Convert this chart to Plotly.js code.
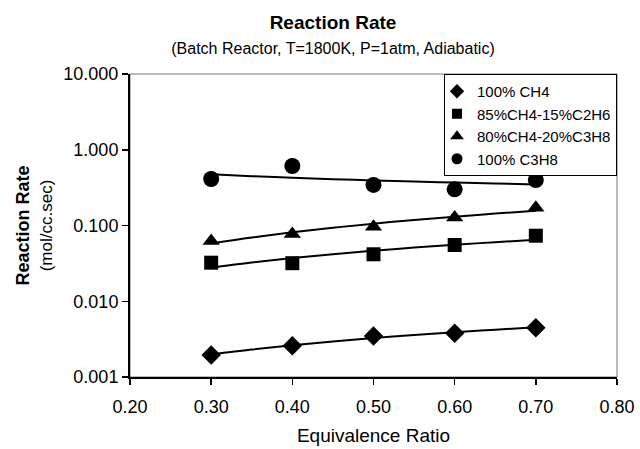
<!DOCTYPE html>
<html>
<head>
<meta charset="utf-8">
<script src="https://cdn.plot.ly/plotly-3.0.1.min.js"></script>
<style>html,body{margin:0;padding:0;background:#fff;}#chart{width:640px;height:449px;}</style>
</head>
<body>
<div id="chart"></div>
<script>
// Equivalence ratio (x) for measured points
var phi = [0.30, 0.40, 0.50, 0.60, 0.70];
// Measured reaction rates (mol/cc.sec)
var rateCH4 = [0.00195, 0.00259, 0.00348, 0.00378, 0.00448];
var rateCH4C2H6 = [0.0323, 0.0318, 0.0417, 0.0553, 0.0733];
var rateCH4C3H8 = [0.0624, 0.0772, 0.0964, 0.128, 0.172];
var rateC3H8 = [0.411, 0.610, 0.343, 0.300, 0.398];

// Trend line readings (x and values)
var phiFit = [0.30, 0.35, 0.40, 0.45, 0.50, 0.55, 0.60, 0.65, 0.70];
var fitCH4 = [0.00198, 0.00230, 0.00262, 0.00294, 0.00326, 0.00358, 0.00390, 0.00422, 0.00453];
var fitCH4C2H6 = [0.0279, 0.0325, 0.0372, 0.0418, 0.0465, 0.0511, 0.0556, 0.0603, 0.0649];
var fitCH4C3H8 = [0.0578, 0.0693, 0.0813, 0.0933, 0.1057, 0.1183, 0.1309, 0.1439, 0.1570];
var fitC3H8 = [0.474, 0.448, 0.427, 0.409, 0.394, 0.380, 0.369, 0.358, 0.349];

var seriesNames = ["100% CH4", "85%CH4-15%C2H6", "80%CH4-20%C3H8", "100% C3H8"];

// Axis ticks
var xTicks = [0.20, 0.30, 0.40, 0.50, 0.60, 0.70, 0.80];
var xTickText = ["0.20", "0.30", "0.40", "0.50", "0.60", "0.70", "0.80"];
var yTicks = [0.001, 0.01, 0.1, 1, 10];
var yTickText = ["0.001", "0.010", "0.100", "1.000", "10.000"];

var FONT = "Liberation Sans, Arial, Helvetica, sans-serif";
var symbols = ["diamond", "square", "triangle-up", "circle"];
var markerSizes = [15, 14, 15, 16];
var legendSizes = [11, 10, 12, 11];
var measured = [rateCH4, rateCH4C2H6, rateCH4C3H8, rateC3H8];
var fits = [fitCH4, fitCH4C2H6, fitCH4C3H8, fitC3H8];

var traces = [];
for (var i = 0; i < 4; i++) {
  traces.push({
    x: phiFit, y: fits[i], type: "scatter", mode: "lines",
    line: {color: "#000", width: 2, shape: "spline"},
    showlegend: false, hoverinfo: "skip"
  });
}
for (var j = 0; j < 4; j++) {
  traces.push({
    x: phi, y: measured[j], type: "scatter", mode: "markers",
    name: seriesNames[j],
    marker: {symbol: symbols[j], size: markerSizes[j], color: "#000"},
    showlegend: false
  });
}
for (var k = 0; k < 4; k++) {
  traces.push({
    x: [null], y: [null], type: "scatter", mode: "markers",
    name: seriesNames[k],
    marker: {symbol: symbols[k], size: legendSizes[k], color: "#000"},
    showlegend: true
  });
}

var layout = {
  width: 640, height: 449,
  margin: {l: 130, r: 23, t: 74, b: 72},
  paper_bgcolor: "#fff", plot_bgcolor: "#fff",
  font: {family: FONT, color: "#000", size: 17},
  showlegend: true,
  title: {
    text: "<b>Reaction Rate</b><br><span style='font-size:16px'>(Batch Reactor, T=1800K, P=1atm, Adiabatic)</span>",
    font: {family: FONT, size: 19, color: "#000"},
    x: 333 / 640, xanchor: "center", xref: "container",
    y: 1 - 29 / 449, yanchor: "top", yref: "container"
  },
  xaxis: {
    range: [0.2, 0.8],
    tickvals: xTicks, ticktext: xTickText,
    ticks: "outside", ticklen: 6, tickwidth: 1.5, tickcolor: "#000",
    ticklabelstandoff: 6,
    showline: true, linecolor: "#000", linewidth: 2,
    showgrid: false, zeroline: false,
    tickfont: {family: FONT, size: 18, color: "#000"},
    title: {text: "Equivalence Ratio", font: {family: FONT, size: 19, color: "#000"}, standoff: 13}
  },
  yaxis: {
    type: "log", range: [-3, 1],
    tickvals: yTicks, ticktext: yTickText,
    ticks: "outside", ticklen: 6, tickwidth: 1.5, tickcolor: "#000",
    showline: true, linecolor: "#000", linewidth: 2,
    showgrid: false, zeroline: false,
    tickfont: {family: FONT, size: 18, color: "#000"},
    title: {text: "<b>Reaction Rate</b><br><span style='font-size:17px'>(mol/cc.sec)</span>", font: {family: FONT, size: 18, color: "#000"}, standoff: 6}
  },
  legend: {
    x: 1, xanchor: "right", y: 1, yanchor: "top",
    bgcolor: "#fff", bordercolor: "#000", borderwidth: 1,
    font: {family: FONT, size: 15, color: "#000"},
    itemwidth: 30, indentation: -8
  },
  shapes: [{
    type: "rect", xref: "paper", yref: "paper", x0: 0, x1: 1, y0: 0, y1: 1,
    line: {color: "#777", width: 1}, layer: "below"
  }]
};

Plotly.newPlot("chart", traces, layout, {displayModeBar: false, staticPlot: true});
</script>
</body>
</html>
